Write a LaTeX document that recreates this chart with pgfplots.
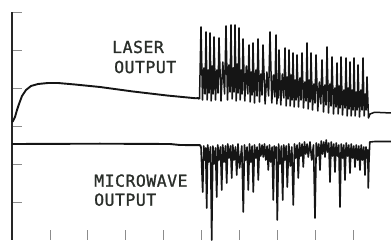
\documentclass[border=0pt]{standalone}
\usepackage{fontspec}
\usepackage{pgfplots}
\pgfplotsset{compat=1.18}
\newfontfamily\lbl{DejaVu Sans Mono}[LetterSpace=3, FakeBold=1.2]
\definecolor{trace}{HTML}{151515}
\definecolor{txt}{HTML}{2A2E2A}
\begin{document}
\begin{tikzpicture}
\useasboundingbox (-12pt,-1pt) rectangle (379pt,240pt);
\begin{axis}[
  scale only axis, width=379pt, height=228pt,
  xmin=12, xmax=391, ymin=0, ymax=228,
  axis y line=left, axis x line=bottom,
  y axis line style={-, line width=1.4pt, color=black!85},
  x axis line style={draw=none},
  xtick={49.9,87.8,125.7,163.6,201.5,239.4,277.3,315.2,353.1},
  ytick={38,76,114,152,190,228},
  xticklabels={}, yticklabels={},
  tick align=inside, major tick length=10pt,
  tick style={line width=0.7pt, color=black!45},
  clip=false,
]
% laser output
\addplot[trace, line width=1.9pt, line join=round] coordinates {
(12,118)(13,119)(15,123)(17,130)(19,136)(22,144)(26,150)(31,154)(38,156)(48,157)(58,157)(75,155.5)(100,153)(133,148.5)(167,144.5)(196,141.7)(198,142)(199.5,141)
};
\addplot[trace, line width=1.5pt, line join=round] coordinates {
(199.5,141)
(201,213)(202.5,140)(203.8,172)(205,146)
(206,208)(207.2,140)(208.2,170)(209.2,147)
(210,207)(211.2,139)(212.2,174)(213.2,146)
(214,203)(215.5,140)(216.8,170)(218,147)
(219,202)(221,139)(222.8,178)(224.6,146)
(226,214)(227.5,140)(228.8,175)(230,148)
(231,215)(232.2,141)(233.2,172)(234.2,148)
(235,215)(236.2,139)(237.2,176)(238.2,147)
(239,212)(240.2,140)(241.2,170)(242.2,146)
(243,201)(244.8,139)(246.3,174)(247.8,146)
(249,195)(250.2,138)(251.2,168)(252.2,145)
(253,197)(254.5,137)(255.8,170)(257,144)
(258,201)(259.5,138)(260.8,166)(262,145)
(263,195)(265.1,136)(266.9,168)(268.6,144)
(270,208)(271.8,137)(273.3,165)(274.8,143)
(276,205)(276.9,136)(277.7,160)(278.4,142)
(279,190)(280.8,135)(282.3,166)(283.8,142)
(285,192)(286.2,134)(287.2,163)(288.2,141)
(289,190)(290.2,134)(291.2,165)(292.2,140)
(293,187)(294.2,133)(295.2,160)(296.2,140)
(297,185)(298.5,133)(299.8,162)(301,140)
(302,187)(303.5,132)(304.8,158)(306,139)
(307,197)(308.2,131)(309.2,160)(310.2,138)
(311,187)(312.5,130)(313.8,156)(315,137)
(316,185)(317.8,129)(319.3,158)(320.8,136)
(322,180)(323.5,128)(324.8,155)(326,135)
(327,193)(328.5,127)(329.8,156)(331,134)
(332,183)(333.5,126)(334.8,152)(336,133)
(337,177)(338.2,126)(339.2,154)(340.2,132)
(341,183)(342.5,125)(343.8,150)(345,132)
(346,182)(347.2,124)(348.2,152)(349.2,131)
(350,178)(351.2,124)(352.2,150)(353.2,130)
(354,182)(355.2,124)(356.2,148)(357.2,130)
(358,175)(359.5,123)(360.8,150)(362,130)
(363,182)(364.2,124)(365.2,146)(366.2,130)
(367,163)(368.5,122)(370,126)(374,127.5)(380,127.5)(391,127)
};
% microwave output
\addplot[trace, line width=1.9pt, line join=round] coordinates {
(12,96)(100,96.3)(170,96)(180,95)(200,94.8)(201,93)
};
\addplot[trace, line width=1.6pt, line join=round] coordinates {
(201,93)
(202.7,48)(203.8,94)(204.8,80)(205.7,92)
(206.7,32)(207.8,95)(208.9,78)(210.5,93)
(211.7,0)(212.9,94)(214,76)(215.5,92)
(216.7,43)(217.8,95)(219,80)(220.5,93)
(221.7,50)(222.8,95)(224,78)(225.5,94)
(226.7,57)(227.8,96)(229,82)(230.5,94)
(231.7,62)(232.8,95)(234,80)(235.5,93)
(236.7,65)(238,96)(239.6,72)(241.8,94)
(243.3,28)(244.5,95)(245.8,80)(247.1,93)
(248.3,50)(249.5,96)(250.8,78)(252.1,94)
(253.3,48)(254.5,95)(255.8,82)(257.1,93)
(258.3,60)(259.5,96)(260.8,84)(262.1,95)
(263.3,83)(264.5,96)(265.8,80)(267.1,94)
(268.3,70)(269.5,95)(270.8,78)(272.1,93)
(273.3,40)(274.3,94)(275.3,82)(276.2,93)
(277.3,20)(278.6,96)(280,76)(281.4,94)
(282.7,40)(283.8,95)(285,80)(286.2,94)
(287.3,53)(288.8,96)(290.3,74)(291.8,93)
(293.3,35)(294.5,96)(295.8,82)(297.1,95)
(298.3,62)(299.5,97)(300.8,84)(302.1,96)
(303.3,73)(304.5,98)(305.8,86)(307.1,96)
(308.3,83)(310,98)(311.7,80)(313.5,95)
(315,22)(316.3,97)(317.5,84)(318.8,96)
(320,70)(321.2,99)(322.5,86)(323.8,98)
(325,83)(326.2,100)(327.5,88)(328.8,97)
(330,58)(331.2,98)(332.5,84)(333.8,96)
(335,68)(336.2,97)(337.5,84)(338.8,95)
(340,33)(341.2,96)(342.5,82)(343.8,95)
(345,60)(346.2,97)(347.5,84)(348.8,95)
(350,67)(351.2,96)(352.5,82)(353.8,94)
(355,73)(356.2,95)(357.5,80)(358.8,94)
(360,70)(361.2,95)(362.5,80)(363.8,93)
(365,65)(366,93)(367,82)(367.8,90)
(368.3,52)(369,80)(369.8,98)(375,98.5)(391,98.5)
};
\node[anchor=base west, inner sep=0pt, font=\lbl\fontsize{16.5}{18}\selectfont, text=txt] at (axis cs:112,187) {LASER};
\node[anchor=base west, inner sep=0pt, font=\lbl\fontsize{16.5}{18}\selectfont, text=txt] at (axis cs:114,167) {OUTPUT};
\node[anchor=base west, inner sep=0pt, font=\lbl\fontsize{16.5}{18}\selectfont, text=txt] at (axis cs:94,53.3) {MICROWAVE};
\node[anchor=base west, inner sep=0pt, font=\lbl\fontsize{16.5}{18}\selectfont, text=txt] at (axis cs:94,34.3) {OUTPUT};
\end{axis}
\end{tikzpicture}
\end{document}
